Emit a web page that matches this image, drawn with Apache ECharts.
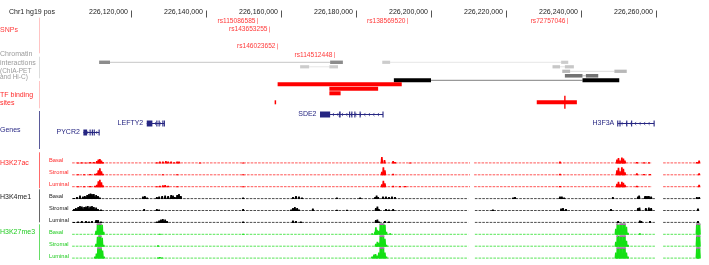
<!DOCTYPE html>
<html>
<head>
<meta charset="utf-8">
<script src="https://cdn.jsdelivr.net/npm/echarts@6/dist/echarts.min.js"></script>
<style>
html, body { margin: 0; padding: 0; background: #fff; }
#chart { width: 709px; height: 265px; }
</style>
</head>
<body>
<div id="chart"></div>
<script>
// 视窗范围 (kb, hg19 chr1)
const viewStart = 226100;
const viewEnd = 226272;
const tickKb = [226120, 226140, 226160, 226180, 226200, 226220, 226240, 226260];

// SNP: [位置 kb, 行]
const snpPos = [[226153.6, 0], [226156.8, 1], [226158.9, 3], [226174.1, 4], [226193.5, 0], [226236.3, 0]];
const snpIds = ['rs115086585', 'rs143653255', 'rs146023652', 'rs114512448', 'rs138569520', 'rs72757046'];

// 染色质互作: [锚点1起, 锚点1止, 锚点2起, 锚点2止, 行, 强度]
const interactions = [
    [226111.5, 226114.4, 226173.1, 226176.5, 0, 0.45],
    [226165.1, 226167.5, 226172.9, 226175.2, 1, 0.2],
    [226187.0, 226189.1, 226234.7, 226236.6, 0, 0.2],
    [226232.4, 226234.4, 226235.7, 226238.1, 1, 0.22],
    [226235.0, 226237.1, 226248.9, 226252.2, 2, 0.28],
    [226235.7, 226240.4, 226241.3, 226244.6, 3, 0.55],
    [226190.1, 226200.0, 226240.4, 226250.2, 4, 1]
];

// TF 结合位点: [起, 止, 行, 峰顶(0=无)]
const tfSites = [
    [226159.1, 226192.2, 0, 0],
    [226172.9, 226185.9, 1, 0],
    [226172.9, 226175.9, 2, 0],
    [226158.3, 226158.7, 4, 0],
    [226228.2, 226238.9, 4, 226235.7]
];

// 基因: [名称, 起, 止, 行, 外显子]
const genes = [
    ['SDE2', 226170.4, 226187.2, 0, [[226170.4, 226173.1], [226175.5, 226175.9], [226178.3, 226178.3], [226178.9, 226178.9], [226179.7, 226179.7], [226181.1, 226181.1], [226187.2, 226187.2]]],
    ['LEFTY2', 226124.2, 226128.9, 1, [[226124.2, 226125.7], [226126.9, 226126.9], [226127.5, 226127.5], [226128.5, 226128.5], [226128.9, 226128.9]]],
    ['H3F3A', 226249.8, 226259.5, 1, [[226249.8, 226249.8], [226250.4, 226250.4], [226252.2, 226252.2], [226253.5, 226253.5], [226259.5, 226259.5]]],
    ['PYCR2', 226107.3, 226111.5, 2, [[226107.3, 226108.3], [226109.1, 226109.1], [226109.7, 226109.7], [226110.2, 226110.2], [226111.5, 226111.5]]]
];

// 信号覆盖区段
const coverRed = [[226104.3, 226122.9], [226123.3, 226210.4], [226211.5, 226258.9], [226261.9, 226271.7]];
const coverOther = [[226104.3, 226209.9], [226211.7, 226259.7], [226261.9, 226271.7]];

// 信号: [位置 kb, 信号值]
const k27acBasal = [[226105.9,1],[226106.9,1.2],[226108.0,1],[226109.1,1.3],[226110.1,1.5],[226110.9,2.5],[226111.3,4],[226111.7,4.5],[226112.1,3],[226112.5,1.5],
    [226126.9,1.2],[226127.7,1.8],[226128.5,2],[226129.3,2.5],[226129.9,2],[226130.7,1.8],[226131.5,1.2],[226132.3,2],[226132.8,2],[226138.4,1],[226149.9,1],
    [226186.9,6.5],[226187.6,3.5],[226189.9,2.5],[226190.4,1.5],[226194.4,1],[226234.4,2],
    [226249.6,4],[226250.0,5.5],[226250.4,3],[226250.9,6],[226251.3,5],[226251.7,3],[226254.9,1.5],[226256.8,1.2],[226258.1,1.2],[226270.9,1.5],[226271.5,3]];
const k27acStromal = [[226105.9,1],[226107.5,1],[226109.1,1.3],[226110.4,1.5],[226110.9,2],[226111.3,5],[226111.7,7],[226112.1,4],[226112.5,1.5],
    [226128.5,1],[226132.3,1],[226149.9,1],[226186.9,3.5],[226187.3,8],[226187.7,5],[226189.9,1.5],[226234.4,1.5],
    [226249.6,5],[226250.0,7.5],[226250.4,4],[226250.9,8],[226251.3,6.5],[226251.7,3],[226254.9,2],[226256.8,1.2],[226258.4,1.2],[226271.5,2]];
const k27acLuminal = [[226105.9,1],[226107.5,1],[226109.1,1.2],[226110.4,1.5],[226110.9,2.5],[226111.3,6],[226111.7,7.5],[226112.1,5],[226112.5,2],
    [226126.9,1],[226127.7,1.5],[226128.5,2],[226129.1,2.3],[226129.9,1.5],[226132.3,1],[226149.9,1],
    [226186.9,3],[226187.3,6.5],[226187.7,4],[226189.9,1.5],[226191.7,1.2],[226193.1,1.2],[226234.4,1.3],
    [226249.6,3.5],[226250.0,5.5],[226250.4,3],[226250.9,5.5],[226251.3,4.5],[226251.7,2.5],[226254.9,1.5],[226271.5,2.5]];
const k4me1Basal = [[226104.8,1.2],[226105.6,2],[226106.4,3.5],[226107.2,2.5],[226107.7,3],[226108.3,4],[226108.8,5],[226109.2,5.5],[226109.6,5],[226110.1,5],[226110.7,4],[226111.2,3],[226111.7,1.5],
    [226123.2,2.5],[226123.7,3],[226124.3,1.5],[226126.9,2],[226127.5,2.5],[226128.3,3],[226129.1,3.5],[226129.9,3],[226130.7,4],[226131.2,3.5],[226131.7,2],[226132.3,4],[226132.8,5],[226133.3,3],
    [226149.9,1.5],[226163.2,2],[226164.0,3],[226164.8,2.5],[226165.6,1.5],[226174.9,1.5],[226181.1,1.5],
    [226185.1,2],[226185.5,3.5],[226185.9,2],[226187.2,2.5],[226188.0,2.5],[226188.8,2],[226189.6,2.5],[226190.4,2],
    [226221.9,1.5],[226222.4,2],[226234.4,2.5],[226234.9,2.5],[226235.5,1.5],[226248.5,2],
    [226255.2,2.5],[226255.5,3.5],[226257.1,3],[226257.6,3],[226258.1,3],[226258.7,2.5],[226270.9,2],[226271.5,2]];
const k4me1Stromal = [[226104.8,2],[226105.3,3],[226105.9,4],[226106.4,5],[226106.9,4.5],[226107.5,4],[226108.0,4.5],[226108.5,5],[226109.1,4.5],[226109.6,5],[226110.1,4],[226110.7,3.5],[226111.2,2],[226112.0,1.5],
    [226123.5,2],[226126.9,2],[226127.5,1.5],[226149.9,2],[226162.7,1.5],[226163.2,3],[226163.7,4],[226164.3,3],[226164.8,1.5],[226168.5,2.5],[226174.9,1.2],[226177.6,1.2],
    [226185.3,3],[226185.7,4.5],[226186.1,2],[226188.0,2],[226188.8,1.5],[226189.9,2],[226216.5,1.5],
    [226234.7,2.5],[226235.2,3],[226236.0,2],[226248.0,2],[226255.2,3],[226255.6,3.5],[226257.3,3],[226258.1,3.5],[226258.7,3],[226271.2,2.5]];
const k4me1Luminal = [[226104.8,1],[226105.9,1.5],[226106.9,2],[226108.0,2],[226108.8,1.5],[226109.6,2],[226110.7,3],[226111.2,3],[226112.0,1.5],
    [226126.9,1.5],[226127.5,2.5],[226128.0,3.5],[226128.5,4],[226129.1,3.5],[226129.6,2],[226149.9,1.5],[226163.2,2.5],[226164.0,2],[226165.3,1.5],
    [226185.3,3],[226185.7,3.5],[226186.1,1.5],[226187.7,2],[226188.8,1.5],[226249.9,2],[226255.7,2.5],[226256.1,2],[226258.4,2],[226271.2,2]];
const k27me3Basal = [[226110.7,4],[226111.1,12],[226111.5,14],[226111.9,14],[226112.3,10],[226112.7,3],[226127.7,1],[226149.9,1],
    [226184.3,1.5],[226185.1,3],[226185.3,7.5],[226185.6,5],[226186.1,4],[226186.5,12],[226186.9,14],[226187.3,14],[226187.7,10],[226188.1,3],[226189.1,1.5],
    [226249.3,6],[226249.7,14],[226250.1,10],[226250.5,12],[226250.9,14],[226251.3,12],[226251.7,14],[226252.1,8],[226252.5,2],[226255.7,1.5],
    [226270.9,14],[226271.3,14],[226271.6,14]];
const k27me3Stromal = [[226110.7,3],[226111.1,10],[226111.5,14],[226111.9,14],[226112.3,9],[226112.7,2],[226127.2,1.5],
    [226185.3,3],[226185.7,5],[226186.1,4],[226186.5,14],[226186.9,14],[226187.3,14],[226187.7,8],[226188.1,2],
    [226249.3,5],[226249.7,14],[226250.1,11],[226250.5,14],[226250.9,14],[226251.3,12],[226251.7,14],[226252.1,6],[226252.5,2],
    [226270.9,14],[226271.3,14],[226271.6,14]];
const k27me3Luminal = [[226110.4,2],[226110.8,5],[226111.2,12],[226111.6,14],[226112.0,14],[226112.4,8],[226112.8,2],[226127.2,1],[226127.7,1.5],[226128.3,1.2],
    [226184.3,2],[226184.8,4],[226185.2,4.5],[226185.6,3],[226186.1,6],[226186.5,14],[226186.9,14],[226187.3,12],[226187.7,6],[226188.1,2],
    [226249.3,6],[226249.7,14],[226250.1,12],[226250.5,14],[226250.9,14],[226251.3,12],[226251.7,14],[226252.1,6],[226252.5,2],
    [226270.9,14],[226271.3,14],[226271.6,14]];

const FONT = '"Liberation Sans", Arial, sans-serif';
const chart = echarts.init(document.getElementById('chart'));

const grids = [], xAxes = [], yAxes = [], series = [];
function addGrid(top, height, yMax, inverse) {
    const i = grids.length;
    grids.push({ left: 56, width: 645, top: top, height: height });
    xAxes.push({ gridIndex: i, type: 'value', min: viewStart, max: viewEnd, show: false });
    yAxes.push({ gridIndex: i, type: 'value', min: 0, max: yMax, inverse: inverse, show: false });
    return i;
}

// 顶部坐标轴
addGrid(16.5, 1, 1, false);
xAxes[0] = {
    gridIndex: 0, type: 'value', min: viewStart, max: viewEnd, position: 'top',
    axisLine: { show: false },
    splitLine: { show: false },
    axisTick: { show: true, customValues: tickKb, length: 7, lineStyle: { color: '#555', width: 1 } },
    axisLabel: {
        customValues: tickKb, margin: 4.5, align: 'right', verticalAlign: 'middle', padding: [0, 3, 0, 0],
        color: '#222', fontSize: 7, fontFamily: FONT,
        formatter: v => Math.round(v * 1000).toLocaleString('en-US')
    }
};

// SNP
const gSnp = addGrid(21, 34, 4, true);
series.push({
    type: 'custom', xAxisIndex: gSnp, yAxisIndex: gSnp, data: snpPos,
    renderItem: (params, api) => {
        const p = api.coord([api.value(0), api.value(1)]);
        const x = Math.round(p[0]) + 0.5;
        return { type: 'group', children: [
            { type: 'line', shape: { x1: x, y1: p[1] - 3, x2: x, y2: p[1] + 3 }, style: { stroke: '#ff9c9c', lineWidth: 1 } },
            { type: 'text', x: x - 2, y: p[1], style: { text: snpIds[params.dataIndex], fill: '#ff3a3a', font: '6.6px ' + FONT, align: 'right', verticalAlign: 'middle', textAlign: 'right', textVerticalAlign: 'middle' } }
        ] };
    }
});

// 染色质互作
const gLink = addGrid(62.3, 18, 4, true);
series.push({
    type: 'custom', xAxisIndex: gLink, yAxisIndex: gLink, data: interactions,
    renderItem: (params, api) => {
        const r = interactions[params.dataIndex];
        const a = api.coord([r[0], r[4]]), b = api.coord([r[1], r[4]]);
        const c = api.coord([r[2], r[4]]), d = api.coord([r[3], r[4]]);
        const g = Math.round(255 * (1 - r[5]));
        const lg = Math.round(g + (255 - g) * 0.5);
        const h = 3 + r[5];
        const y = a[1];
        return { type: 'group', children: [
            { type: 'line', shape: { x1: b[0], y1: y, x2: c[0], y2: y }, style: { stroke: `rgb(${lg},${lg},${lg})`, lineWidth: 1 } },
            { type: 'rect', shape: { x: a[0], y: y - h / 2, width: b[0] - a[0], height: h }, style: { fill: `rgb(${g},${g},${g})` } },
            { type: 'rect', shape: { x: c[0], y: y - h / 2, width: d[0] - c[0], height: h }, style: { fill: `rgb(${g},${g},${g})` } }
        ] };
    }
});

// TF 结合位点
const gTf = addGrid(84.3, 18, 4, true);
series.push({
    type: 'custom', xAxisIndex: gTf, yAxisIndex: gTf, data: tfSites,
    renderItem: (params, api) => {
        const r = tfSites[params.dataIndex];
        const a = api.coord([r[0], r[2]]), b = api.coord([r[1], r[2]]);
        const kids = [{ type: 'rect', shape: { x: a[0], y: a[1] - 2, width: Math.max(b[0] - a[0], 1.5), height: 4 }, style: { fill: '#ff0000' } }];
        if (r[3]) {
            const s = api.coord([r[3], r[2]]);
            kids.push({ type: 'line', shape: { x1: s[0], y1: s[1] - 6.5, x2: s[0], y2: s[1] + 6.5 }, style: { stroke: '#ff0000', lineWidth: 1.4 } });
        }
        return { type: 'group', children: kids };
    }
});

// 基因
const gGene = addGrid(114, 18.3, 2, true);
const geneColor = '#262682';
series.push({
    type: 'custom', xAxisIndex: gGene, yAxisIndex: gGene, data: genes.map(g => [g[1], g[2], g[3]]),
    renderItem: (params, api) => {
        const g = genes[params.dataIndex];
        const a = api.coord([g[1], g[3]]), b = api.coord([g[2], g[3]]);
        const y = Math.round(a[1]) + 0.5;
        const kids = [{ type: 'line', shape: { x1: a[0], y1: y, x2: b[0], y2: y }, style: { stroke: geneColor, lineWidth: 1 } }];
        for (let x = a[0] + 4; x < b[0] - 2; x += 4.5) {
            kids.push({ type: 'polyline', shape: { points: [[x + 1, y - 1.6], [x - 0.6, y], [x + 1, y + 1.6]] }, style: { stroke: geneColor, lineWidth: 0.7, fill: null } });
        }
        g[4].forEach(e => {
            const s = api.coord([e[0], g[3]]), t = api.coord([e[1], g[3]]);
            const w = Math.max(t[0] - s[0], 1.1);
            kids.push({ type: 'rect', shape: { x: s[0] - (w > 1.1 ? 0 : 0.55), y: y - 3, width: w, height: 6 }, style: { fill: geneColor } });
        });
        kids.push({ type: 'text', x: a[0] - 3.5, y: y, style: { text: g[0], fill: geneColor, font: '7px ' + FONT, align: 'right', verticalAlign: 'middle', textAlign: 'right', textVerticalAlign: 'middle' } });
        return { type: 'group', children: kids };
    }
});

// 信号轨道
const groups = [
    { name: 'H3K27ac', label: '#ff2a2a', fill: '#ff0000', base: 'rgba(255,30,30,0.75)', cover: coverRed, data: [k27acBasal, k27acStromal, k27acLuminal] },
    { name: 'H3K4me1', label: '#222222', fill: '#000000', base: 'rgba(0,0,0,0.7)', cover: coverOther, data: [k4me1Basal, k4me1Stromal, k4me1Luminal] },
    { name: 'H3K27me3', label: '#22cc22', fill: '#14e014', base: 'rgba(30,220,30,0.75)', cover: coverOther, data: [k27me3Basal, k27me3Stromal, k27me3Luminal] }
];
const cellTypes = ['Basal', 'Stromal', 'Luminal'];
const trackMax = 11.2;
const graphics = [];

groups.forEach((grp, gi) => {
    grp.data.forEach((vals, ti) => {
        const k = gi * 3 + ti;
        const baseY = 163.4 + k * 11.9;
        const gIdx = addGrid(baseY - 11.5, 11.5, 11.5, false);
        series.push({
            type: 'custom', xAxisIndex: gIdx, yAxisIndex: gIdx, data: grp.cover,
            renderItem: (params, api) => {
                const a = api.coord([api.value(0), 0]), b = api.coord([api.value(1), 0]);
                return { type: 'line', shape: { x1: a[0], y1: a[1] - 0.5, x2: b[0], y2: a[1] - 0.5 }, style: { stroke: grp.base, lineWidth: 1, lineDash: [2.6, 1.1] } };
            }
        });
        series.push({
            type: 'custom', xAxisIndex: gIdx, yAxisIndex: gIdx, data: vals,
            renderItem: (params, api) => {
                const v = api.value(1);
                const b = api.coord([api.value(0), 0]);
                const t = api.coord([api.value(0), Math.min(v, trackMax)]);
                const kids = [{ type: 'polygon', shape: { points: [[b[0] - 1.35, b[1]], [b[0] - 0.8, t[1]], [b[0] + 0.8, t[1]], [b[0] + 1.35, b[1]]] }, style: { fill: grp.fill } }];
                if (v > trackMax) kids.push({ type: 'rect', shape: { x: b[0] - 0.9, y: t[1], width: 1.8, height: 1.3 }, style: { fill: '#d24cd2' } });
                return { type: 'group', children: kids };
            }
        });
        graphics.push({ type: 'text', x: 49, y: baseY - 2.6, style: { text: cellTypes[ti], fill: grp.label, font: '5.7px ' + FONT, verticalAlign: 'middle', textVerticalAlign: 'middle' } });
    });
});

// 左侧标签
const sideLabels = [
    ['Chr1 hg19 pos', 9, 12, '#222222', 7],
    ['SNPs', 0, 30, '#ff3b3b', 7],
    ['Chromatin', 0, 54.3, '#9a9a9a', 7],
    ['interactions', 0, 62.7, '#9a9a9a', 7],
    ['(ChIA-PET', 0, 71, '#9a9a9a', 6.5],
    ['and Hi-C)', 0, 77.3, '#9a9a9a', 6.5],
    ['TF binding', 0, 95, '#ff2a2a', 7],
    ['sites', 0, 103.3, '#ff2a2a', 7],
    ['Genes', 0, 130, '#2a2a86', 7],
    ['H3K27ac', 0, 163.3, '#ff2a2a', 7],
    ['H3K4me1', 0, 196.7, '#222222', 7],
    ['H3K27me3', 0, 232.3, '#22cc22', 7]
];
sideLabels.forEach(s => graphics.push({ type: 'text', x: s[1], y: s[2], style: { text: s[0], fill: s[3], font: s[4] + 'px ' + FONT, verticalAlign: 'middle', textVerticalAlign: 'middle' } }));

const separators = [
    [17.7, 53.3, '#ffc4c4'], [56.7, 78.3, '#dcdcdc'], [81, 108.3, '#ffc4c4'], [111, 149, '#5a5a9a'],
    [152.3, 188.3, '#ff6a6a'], [189.3, 222.3, '#666666'], [224.3, 260, '#66dd66']
];
separators.forEach(s => graphics.push({ type: 'line', shape: { x1: 39.5, y1: s[0], x2: 39.5, y2: s[1] }, style: { stroke: s[2], lineWidth: 1 } }));

chart.setOption({
    backgroundColor: '#fff',
    animation: false,
    grid: grids,
    xAxis: xAxes,
    yAxis: yAxes,
    series: series,
    graphic: { elements: graphics }
});
</script>
</body>
</html>
